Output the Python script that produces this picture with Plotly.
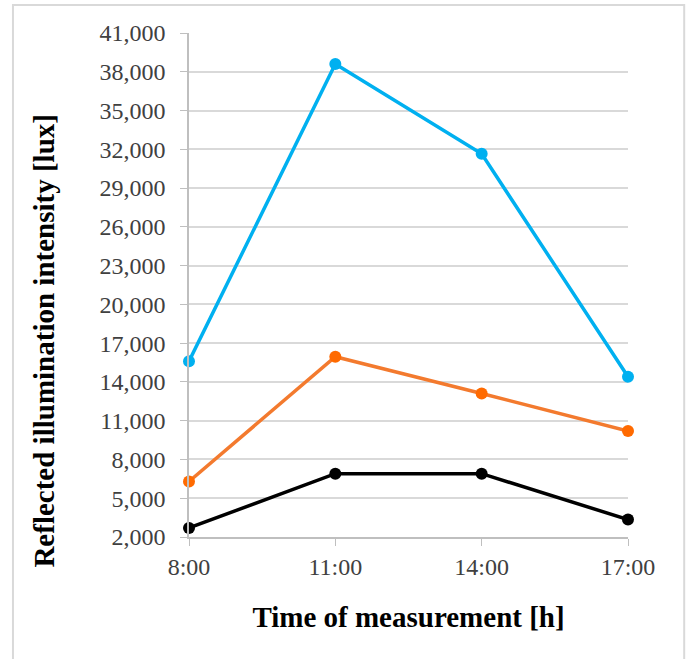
import plotly.graph_objects as go

# Measurement times and reflected illuminance readings [lux]
times = ["8:00", "11:00", "14:00", "17:00"]
series_blue = [15600, 38600, 31650, 14400]
series_orange = [6300, 15950, 13100, 10200]
series_black = [2700, 6900, 6900, 3350]

y_ticks = list(range(2000, 41001, 3000))

FONT = "Liberation Serif, Times New Roman, serif"

fig = go.Figure()

for values, line_col, marker_col in [
    (series_blue, "#00B0F0", "#00B0F0"),
    (series_orange, "#F37A2E", "#FF6A00"),
    (series_black, "#000000", "#000000"),
]:
    fig.add_trace(go.Scatter(
        x=times, y=values, mode="lines+markers",
        line=dict(color=line_col, width=3.5),
        marker=dict(color=marker_col, size=12),
        cliponaxis=False, showlegend=False,
    ))

# light frame around the chart object
fig.add_shape(type="rect", xref="paper", yref="paper",
              x0=-0.401, x1=1.128, y0=-0.27, y1=1.0556,
              line=dict(color="#D9D9D9", width=2), layer="below")

# vertical axis title, placed a little below the plot centre
fig.add_annotation(
    text="<b>Reflected illumination intensity [lux]</b>",
    xref="paper", yref="paper", x=-0.330, y=0.39,
    xanchor="center", yanchor="middle", textangle=-90, showarrow=False,
    font=dict(family=FONT, size=29, color="#000000"),
)

fig.update_layout(
    width=686, height=659,
    margin=dict(l=189, r=58, t=33, b=122),
    paper_bgcolor="white", plot_bgcolor="white",
    font=dict(family=FONT, size=24, color="#404040"),
    xaxis=dict(
        type="category", range=[0, 3],
        showgrid=False, showline=True, linecolor="#BFBFBF", linewidth=1.5,
        ticks="outside", ticklen=7, tickcolor="#BFBFBF",
        tickfont=dict(family=FONT, size=24, color="#404040"),
        title=dict(text="<b>Time of measurement [h]</b>",
                   font=dict(family=FONT, size=29, color="#000000"), standoff=28),
    ),
    yaxis=dict(
        range=[2000, 41000], tickvals=y_ticks, tickformat=",",
        showgrid=True, gridcolor="#D9D9D9", gridwidth=1.5,
        showline=True, linecolor="#BFBFBF", linewidth=1.5,
        ticks="outside", ticklen=7, tickcolor="#BFBFBF", ticklabelstandoff=10,
        tickfont=dict(family=FONT, size=24, color="#404040"),
        zeroline=False,
    ),
)

fig.write_html("out.html")
